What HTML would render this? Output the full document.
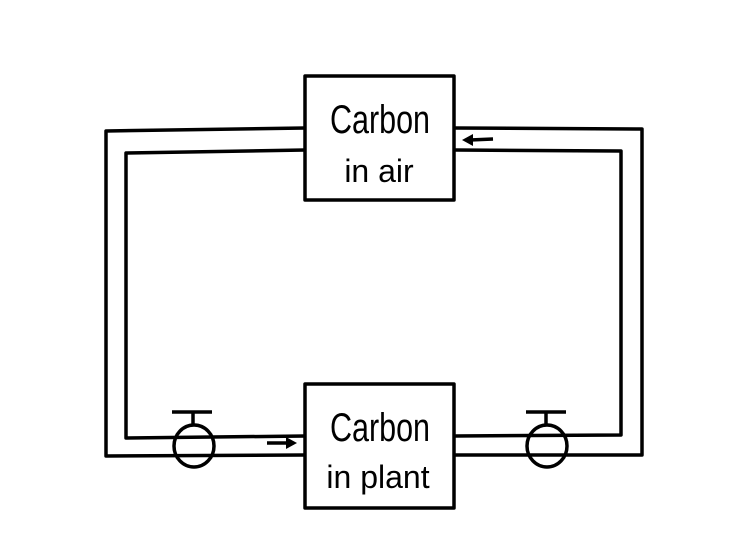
<!DOCTYPE html>
<html><head><style>
html,body{margin:0;padding:0;background:#fff;}
</style></head><body>
<svg width="755" height="543" xmlns="http://www.w3.org/2000/svg" style="display:block">
<rect width="755" height="543" fill="#fff"/>
<g fill="none" stroke="#000" stroke-width="3.5" stroke-linejoin="round">
<!-- outer pipe -->
<polyline points="305,128 106,131 106,456 305,455"/>
<polyline points="455,128 642,129 642,455 455,455"/>
<!-- inner pipe -->
<polyline points="305,150 126,153 126,438 305,436"/>
<polyline points="455,150 621,151 621,435 455,436"/>
<!-- boxes -->
<rect x="305" y="76" width="149" height="124" fill="#fff"/>
<rect x="305" y="384" width="149" height="124" fill="#fff"/>
<!-- valves -->
<line x1="172" y1="412" x2="212" y2="412"/>
<line x1="193" y1="412" x2="193" y2="425"/>
<ellipse cx="194" cy="446" rx="20" ry="21"/>
<line x1="526" y1="412" x2="566" y2="412"/>
<line x1="546" y1="412" x2="546" y2="425"/>
<ellipse cx="547" cy="446" rx="20" ry="21"/>
<!-- arrows -->
<line x1="267" y1="443" x2="288" y2="443"/>
<line x1="470" y1="140" x2="493" y2="139"/>
</g>
<polygon points="286,437 297,443 286,449" fill="#000"/>
<polygon points="473,134 462,140 473,146" fill="#000"/>
<g font-family="Liberation Sans, sans-serif" fill="#000" text-anchor="middle" font-weight="normal">
<text x="380" y="133" font-size="40" textLength="100" lengthAdjust="spacingAndGlyphs">Carbon</text>
<text x="379" y="182" font-size="32">in air</text>
<text x="380" y="441" font-size="40" textLength="100" lengthAdjust="spacingAndGlyphs">Carbon</text>
<text x="378" y="488" font-size="32">in plant</text>
</g>
</svg>
</body></html>
